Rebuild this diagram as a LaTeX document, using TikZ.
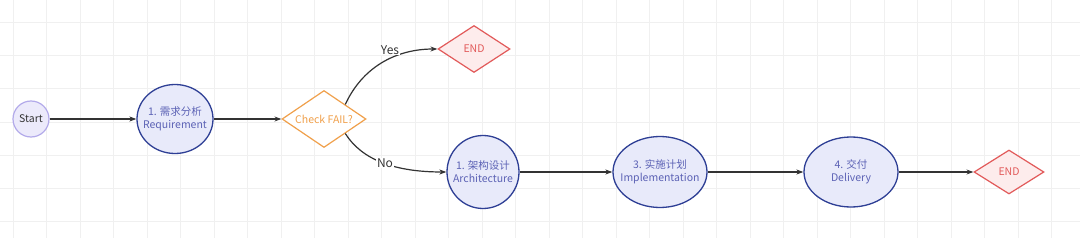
\documentclass[tikz,border=0pt]{standalone}
\usepackage{fontspec}
\setmainfont{Noto Sans CJK SC}
\usetikzlibrary{shapes.geometric,arrows.meta}
\definecolor{gridc}{HTML}{F0F0F0}
\definecolor{procfill}{HTML}{E8EAFA}
\definecolor{procdraw}{HTML}{2E3F95}
\definecolor{proctext}{HTML}{5C62B5}
\definecolor{startfill}{HTML}{ECEAFB}
\definecolor{startdraw}{HTML}{B3AAEA}
\definecolor{checkc}{HTML}{F0A04B}
\definecolor{endc}{HTML}{E25A5A}
\definecolor{endfill}{HTML}{FDECEC}
\definecolor{linec}{HTML}{333333}
\tikzset{
  gridline/.style={gridc, line width=0.7pt},
  startnode/.style={circle, minimum size=36pt, inner sep=0pt, fill=startfill, draw=startdraw, line width=1.2pt, text=linec, font=\fontsize{10.5}{13}\selectfont},
  proc/.style={ellipse, inner xsep=-9pt, inner ysep=0pt, fill=procfill, draw=procdraw, line width=1.3pt, text=proctext, align=center, font=\fontsize{10.5}{13}\selectfont},
  checknode/.style={diamond, shape aspect=1.5, inner sep=0pt, minimum width=84pt, minimum height=57pt, fill=white, draw=checkc, line width=1.2pt, text=checkc, font=\fontsize{10.5}{13}\selectfont},
  endnode/.style={diamond, shape aspect=1.5, inner sep=0pt, minimum width=72pt, minimum height=47pt, fill=endfill, draw=endc, line width=1.2pt, text=endc, font=\fontsize{10.5}{13}\selectfont},
  conn/.style={draw=linec, line width=1.2pt, -{Stealth[length=7pt,width=5pt]}},
  lbl/.style={fill=white, inner sep=1pt, text=linec, font=\fontsize{12}{14}\selectfont}
}
\begin{document}
\begin{tikzpicture}[x=1pt,y=-1pt]
\fill[white] (0,0) rectangle (1080,238);
\useasboundingbox (0,0) rectangle (1080,238);
\foreach \i in {0,...,32} \draw[gridline] ({13+33.5*\i},0) -- ({13+33.5*\i},238);
\foreach \j in {0,...,6} \draw[gridline] (0,{22+33.3*\j}) -- (1080,{22+33.3*\j});

\node[startnode] (start) at (31,119) {Start};
\node[proc, minimum width=76pt, minimum height=69pt] (req) at (175,119) {1. 需求分析\\Requirement};
\node[checknode] (check) at (324,119) {Check FAIL?};
\node[endnode] (end1) at (474,49) {END};
\node[proc, minimum width=72pt, minimum height=73pt] (arch) at (483,172) {1. 架构设计\\Architecture};
\node[proc, minimum width=94pt, minimum height=71pt] (impl) at (660,172) {3. 实施计划\\Implementation};
\node[proc, minimum width=94pt, minimum height=70pt] (deliv) at (851,172) {4. 交付\\Delivery};
\node[endnode, minimum width=70pt, minimum height=44pt] (end2) at (1009,172) {END};

\draw[conn] (start) -- (req);
\draw[conn] (req) -- (check);
\draw[conn] (check.north east) .. controls (362,68) and (395,49) .. (end1.west);
\draw[conn] (check.south east) .. controls (362,160) and (395,172) .. (arch.west);
\draw[conn] (arch) -- (impl);
\draw[conn] (impl) -- (deliv);
\draw[conn] (deliv) -- (end2);

\node[lbl] (yes) at (390,50) {Yes};
\node[lbl] (no) at (385,163) {No};
\end{tikzpicture}
\end{document}
